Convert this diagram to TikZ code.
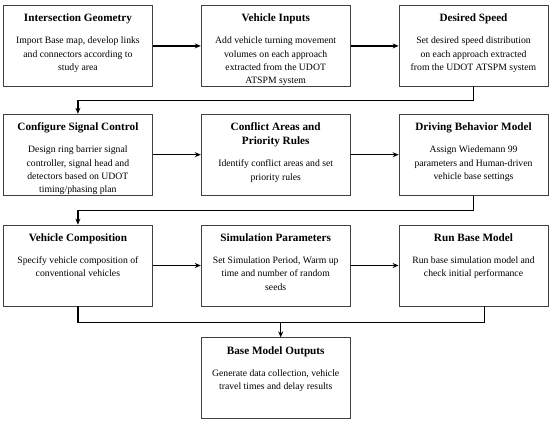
\documentclass[tikz,border=0pt]{standalone}
\usepackage{fontspec}
\setmainfont{Liberation Serif}
\usetikzlibrary{positioning,arrows.meta}
\newcommand*{\ttl}{\fontsize{11.2}{14}\selectfont\bfseries}
\newcommand*{\bdy}{\fontsize{9.7}{13.3}\selectfont\mdseries}
\newcommand*{\stagetxt}[2]{\parbox[t][64pt][t]{145pt}{\centering\ttl #1\par\vspace{9pt}\bdy #2}}
\tikzset{
	stage/.style={draw=black!75,line width=0.8pt,minimum width=149pt,minimum height=81pt,inner sep=0pt},
	flow/.style={line width=1.3pt,-{Stealth[length=6pt,width=5pt]}},
	link/.style={line width=1.3pt}
}

\begin{document}
\begin{tikzpicture}
	\useasboundingbox (0pt,0pt) rectangle (550pt,-421pt);
	% first row
	\node[stage,anchor=north west] (geo) at (3pt,-5pt)
		{\stagetxt{Intersection Geometry}{Import Base map, develop links\\and connectors according to\\study area}};
	\node[stage,right=48pt of geo] (inputs)
		{\stagetxt{Vehicle Inputs}{Add vehicle turning movement\\volumes on each approach\\extracted from the UDOT\\ATSPM system}};
	\node[stage,right=48pt of inputs] (speed)
		{\stagetxt{Desired Speed}{Set desired speed distribution\\on each approach extracted\\from the UDOT ATSPM system}};
	% second row
	\node[stage,below=27pt of geo] (signal)
		{\stagetxt{Configure Signal Control}{Design ring barrier signal\\controller, signal head and\\detectors based on UDOT\\timing/phasing plan}};
	\node[stage,right=48pt of signal] (conflict)
		{\stagetxt{Conflict Areas and\\Priority Rules}{Identify conflict areas and set\\priority rules}};
	\node[stage,right=48pt of conflict] (behav)
		{\stagetxt{Driving Behavior Model}{Assign Wiedemann 99\\parameters and Human-driven\\vehicle base settings}};
	% third row
	\node[stage,below=29pt of signal] (compo)
		{\stagetxt{Vehicle Composition}{Specify vehicle composition of\\conventional vehicles}};
	\node[stage,right=48pt of compo] (simpar)
		{\stagetxt{Simulation Parameters}{Set Simulation Period, Warm up\\time and number of random\\seeds}};
	\node[stage,right=48pt of simpar] (run)
		{\stagetxt{Run Base Model}{Run base simulation model and\\check initial performance}};
	% outputs
	\node[stage,below=31pt of simpar] (outputs)
		{\stagetxt{Base Model Outputs}{Generate data collection, vehicle\\travel times and delay results}};

	\draw[flow] (geo) -- (inputs);
	\draw[flow] (inputs) -- (speed);
	\draw[flow] (speed.south) -- ++(0,-14pt) -| (signal.north);
	\draw[flow] (signal) -- (conflict);
	\draw[flow] (conflict) -- (behav);
	\draw[flow] (behav.south) -- ++(0,-15pt) -| (compo.north);
	\draw[flow] (compo) -- (simpar);
	\draw[flow] (simpar) -- (run);
	\draw[flow] (compo.south) -- ++(0,-16pt) coordinate (joint) -| ([xshift=5pt]outputs.north);
	\draw[link] ([xshift=11pt]run.south) |- (joint);
\end{tikzpicture}
\end{document}
